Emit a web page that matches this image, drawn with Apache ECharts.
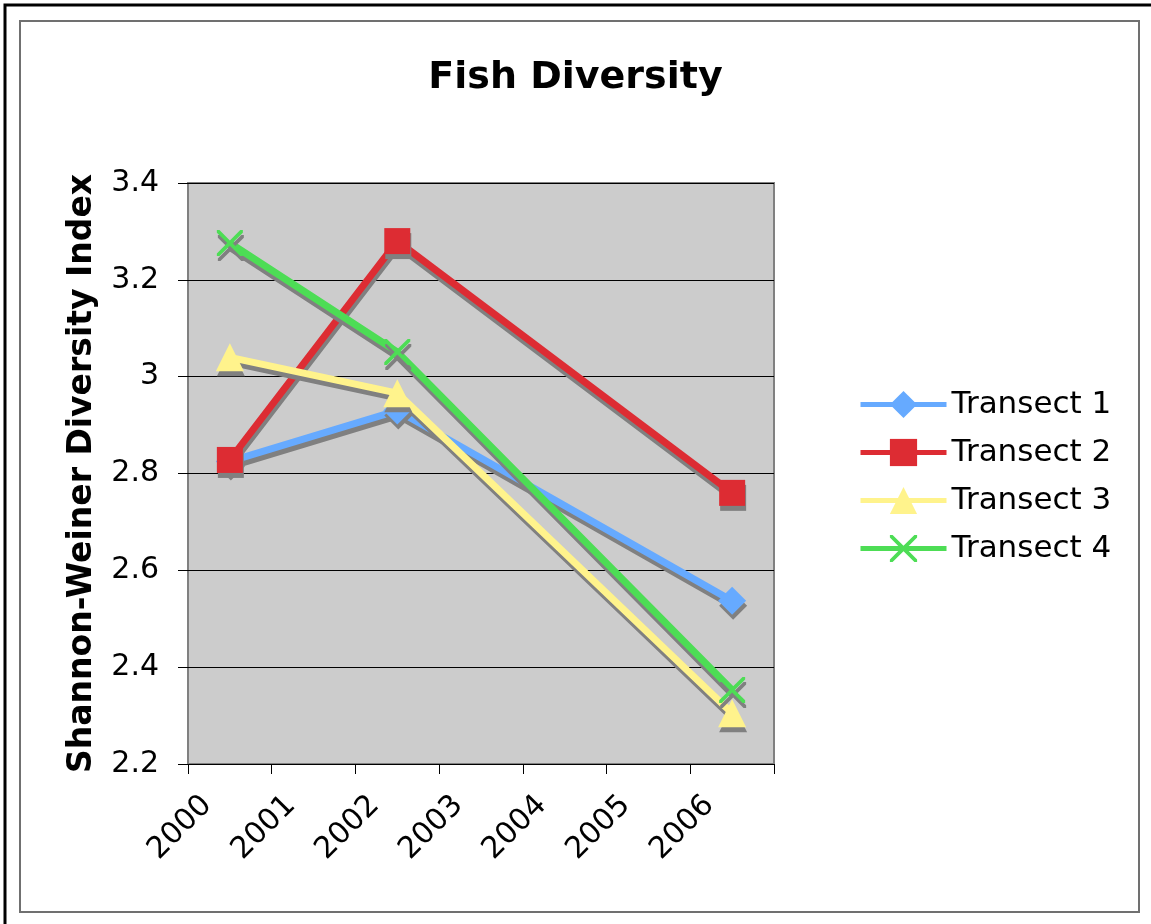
<!DOCTYPE html>
<html>
<head>
<meta charset="utf-8">
<script src="https://cdn.jsdelivr.net/npm/echarts@6/dist/echarts.min.js"></script>
<style>
  html, body { margin: 0; padding: 0; background: #fff; }
  #myChart { width: 1151px; height: 924px; }
</style>
</head>
<body>
<div id="myChart"></div>
<script>
  // chart values
  var years = ['2000', '2001', '2002', '2003', '2004', '2005', '2006'];
  var seriesNames = ['Transect 1', 'Transect 2', 'Transect 3', 'Transect 4'];
  var transect1 = [2.825, null, 2.93, null, null, null, 2.537];
  var transect2 = [2.828, null, 3.28, null, null, null, 2.76];
  var transect3 = [3.04, null, 2.966, null, null, null, 2.305];
  var transect4 = [3.276, null, 3.051, null, null, null, 2.353];
  var yTicks = { min: 2.2, max: 3.4, step: 0.2 };

  var colorList = ['#66AAFF', '#DD2C33', '#FFF38C', '#4DDD55'];
  var xPath = 'path://M0,0 L2,0 L10,8 L18,0 L20,0 L20,2 L12,10 L20,18 L20,20 L18,20 L10,12 L2,20 L0,20 L0,18 L8,10 L0,2 Z';
  var symbols = ['diamond', 'rect', 'triangle', xPath];
  var sizes = [28, 26, 28, 26];
  var allData = [transect1, transect2, transect3, transect4];

  var font = '"DejaVu Sans", Verdana, sans-serif';

  var myChart = echarts.init(document.getElementById('myChart'));

  var series = seriesNames.map(function (name, i) {
    return {
      name: name,
      type: 'line',
      data: allData[i],
      connectNulls: true,
      symbol: symbols[i],
      symbolSize: sizes[i],
      showAllSymbol: true,
      color: colorList[i],
      lineStyle: {
        width: 7,
        color: colorList[i],
        shadowColor: '#808080',
        shadowBlur: 0,
        shadowOffsetX: 1,
        shadowOffsetY: 5
      },
      itemStyle: {
        color: colorList[i],
        borderWidth: 0,
        shadowColor: '#808080',
        shadowBlur: 0,
        shadowOffsetX: 1,
        shadowOffsetY: 5
      },
      emphasis: { disabled: true },
      animation: false
    };
  });

  myChart.setOption({
    animation: false,
    textStyle: { fontFamily: font },
    title: {
      text: 'Fish Diversity',
      left: 'center',
      top: 54,
      textStyle: { fontFamily: font, fontSize: 38, fontWeight: 'bold', color: '#000' }
    },
    graphic: [
      {
        type: 'rect',
        shape: { x: 5, y: 5, width: 1300, height: 1100 },
        style: { fill: 'none', stroke: '#000', lineWidth: 3 },
        silent: true
      },
      {
        type: 'rect',
        shape: { x: 20, y: 21, width: 1119, height: 891 },
        style: { fill: 'none', stroke: '#707070', lineWidth: 2 },
        silent: true
      }
    ],
    grid: {
      left: 188,
      top: 183,
      width: 586,
      height: 581,
      show: true,
      backgroundColor: '#CCCCCC',
      borderColor: '#808080',
      borderWidth: 2
    },
    legend: {
      orient: 'vertical',
      left: 853,
      top: 384,
      itemWidth: 86,
      itemHeight: 34,
      itemGap: 17,
      data: seriesNames,
      textStyle: { fontFamily: font, fontSize: 31, color: '#000' },
      itemStyle: { shadowColor: 'transparent', shadowOffsetY: 0, shadowOffsetX: 0 },
      lineStyle: { width: 5, shadowColor: 'transparent', shadowOffsetY: 0, shadowOffsetX: 0 }
    },
    xAxis: {
      type: 'category',
      data: years,
      boundaryGap: true,
      axisLine: { show: false },
      axisTick: { show: true, length: 10, lineStyle: { color: '#000', width: 1 } },
      axisLabel: {
        rotate: 45,
        fontFamily: font,
        fontSize: 30,
        color: '#000',
        margin: 14,
        padding: [0, 32, 0, 0]
      },
      splitLine: { show: false }
    },
    yAxis: {
      type: 'value',
      min: yTicks.min,
      max: yTicks.max,
      interval: yTicks.step,
      name: 'Shannon-Weiner Diversity Index',
      nameLocation: 'middle',
      nameGap: 89,
      nameTextStyle: { fontFamily: font, fontSize: 33, fontWeight: 'bold', color: '#000' },
      axisLine: { show: false },
      axisTick: { show: true, length: 10, lineStyle: { color: '#000', width: 1 } },
      axisLabel: {
        fontFamily: font,
        fontSize: 30,
        color: '#000',
        margin: 29,
        formatter: function (v) { return String(Math.round(v * 10) / 10); }
      },
      splitLine: { show: true, lineStyle: { color: '#000', width: 1 } }
    },
    series: series
  });
</script>
</body>
</html>
